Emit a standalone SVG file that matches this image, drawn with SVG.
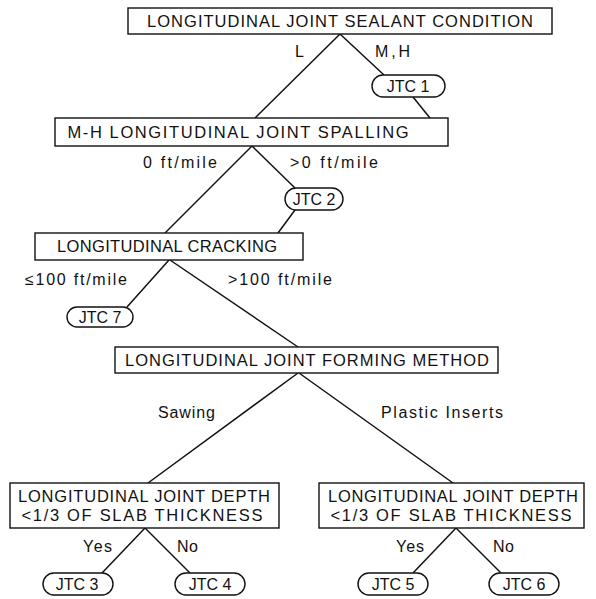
<svg xmlns="http://www.w3.org/2000/svg" width="596" height="599" viewBox="0 0 596 599">
<style>
.box{fill:#fff;stroke:#111;stroke-width:1.4}
.pill{fill:#fff;stroke:#111;stroke-width:1.4}
.bt{font-family:"Liberation Sans",Arial,sans-serif;font-size:16.5px;fill:#111;text-anchor:middle}
.lb{font-family:"Liberation Sans",Arial,sans-serif;font-size:16px;fill:#111}
.jt{font-family:"Liberation Sans",Arial,sans-serif;font-size:16px;fill:#111;text-anchor:middle}
#connectors line{stroke:#111;stroke-width:1.5;fill:none}
</style>
<rect width="596" height="599" fill="#fff"/>
<g id="connectors">
<line x1="340" y1="34" x2="255" y2="118"/>
<line x1="340" y1="34" x2="384" y2="75"/>
<line x1="413" y1="97" x2="430" y2="118"/>
<line x1="252" y1="146" x2="165" y2="233"/>
<line x1="252" y1="146" x2="295" y2="188"/>
<line x1="295" y1="210" x2="278" y2="233"/>
<line x1="169" y1="260" x2="127" y2="307"/>
<line x1="170" y1="260" x2="298" y2="347"/>
<line x1="298" y1="373" x2="148" y2="483"/>
<line x1="299" y1="373" x2="453" y2="483"/>
<line x1="145" y1="528" x2="102" y2="573"/>
<line x1="145" y1="528" x2="190" y2="573"/>
<line x1="456" y1="528" x2="413" y2="573"/>
<line x1="456" y1="528" x2="501" y2="573"/>
</g>
<g id="labels">
<text class="lb" x="295" y="57">L</text>
<text class="lb" x="375" y="57" textLength="35" lengthAdjust="spacing">M,H</text>
<text class="lb" x="143" y="168" textLength="74" lengthAdjust="spacing">0 ft/mile</text>
<text class="lb" x="290" y="168" textLength="88" lengthAdjust="spacing">&gt;0 ft/mile</text>
<text class="lb" x="25" y="285" textLength="102" lengthAdjust="spacing">≤100 ft/mile</text>
<text class="lb" x="228" y="285" textLength="104" lengthAdjust="spacing">&gt;100 ft/mile</text>
<text class="lb" x="158" y="418" textLength="57" lengthAdjust="spacing">Sawing</text>
<text class="lb" x="381" y="418" textLength="122" lengthAdjust="spacing">Plastic Inserts</text>
<text class="lb" x="83" y="552" textLength="29" lengthAdjust="spacing">Yes</text>
<text class="lb" x="177" y="552" textLength="21" lengthAdjust="spacing">No</text>
<text class="lb" x="396" y="552" textLength="28" lengthAdjust="spacing">Yes</text>
<text class="lb" x="493" y="552" textLength="21" lengthAdjust="spacing">No</text>
</g>
<g id="n1"><rect class="box" x="128" y="8" width="424" height="26"/><text class="bt" x="340" y="27" textLength="386" lengthAdjust="spacing">LONGITUDINAL JOINT SEALANT CONDITION</text></g>
<g id="jtc1"><rect class="pill" x="372" y="75" width="73" height="22" rx="11"/><text class="jt" x="408" y="92">JTC 1</text></g>
<g id="n2"><rect class="box" x="55" y="118" width="393" height="28"/><text class="bt" x="238" y="138" textLength="341" lengthAdjust="spacing">M-H LONGITUDINAL JOINT SPALLING</text></g>
<g id="jtc2"><rect class="pill" x="285" y="188" width="58" height="22" rx="11"/><text class="jt" x="314" y="205">JTC 2</text></g>
<g id="n3"><rect class="box" x="35" y="233" width="268" height="27"/><text class="bt" x="167" y="252" textLength="220" lengthAdjust="spacing">LONGITUDINAL CRACKING</text></g>
<g id="jtc7"><rect class="pill" x="67" y="307" width="66" height="20" rx="10"/><text class="jt" x="100" y="323">JTC 7</text></g>
<g id="n4"><rect class="box" x="115" y="347" width="383" height="26"/><text class="bt" x="307" y="366" textLength="364" lengthAdjust="spacing">LONGITUDINAL JOINT FORMING METHOD</text></g>
<g id="n5"><rect class="box" x="10" y="483" width="269" height="45"/><text class="bt" x="144" y="502" textLength="252" lengthAdjust="spacing">LONGITUDINAL JOINT DEPTH</text><text class="bt" x="142" y="521" textLength="241" lengthAdjust="spacing">&lt;1/3 OF SLAB THICKNESS</text></g>
<g id="n6"><rect class="box" x="319" y="483" width="265" height="45"/><text class="bt" x="453" y="502" textLength="250" lengthAdjust="spacing">LONGITUDINAL JOINT DEPTH</text><text class="bt" x="451" y="521" textLength="241" lengthAdjust="spacing">&lt;1/3 OF SLAB THICKNESS</text></g>
<g id="jtc3"><rect class="pill" x="43" y="573" width="70" height="22" rx="11"/><text class="jt" x="77" y="590">JTC 3</text></g>
<g id="jtc4"><rect class="pill" x="175" y="573" width="70" height="22" rx="11"/><text class="jt" x="210" y="590">JTC 4</text></g>
<g id="jtc5"><rect class="pill" x="358" y="573" width="70" height="22" rx="11"/><text class="jt" x="393" y="590">JTC 5</text></g>
<g id="jtc6"><rect class="pill" x="489" y="573" width="70" height="22" rx="11"/><text class="jt" x="524" y="590">JTC 6</text></g>
</svg>
